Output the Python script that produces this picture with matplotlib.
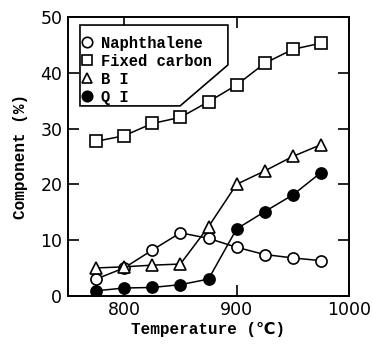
import matplotlib.pyplot as plt
from matplotlib.patches import Polygon
from matplotlib.lines import Line2D

temperature = [775, 800, 825, 850, 875, 900, 925, 950, 975]
naphthalene = [3.0, 5.0, 8.2, 11.3, 10.3, 8.7, 7.4, 6.8, 6.3]
fixed_carbon = [27.7, 28.7, 30.9, 32.0, 34.8, 37.8, 41.7, 44.2, 45.3]
bi = [5.0, 5.2, 5.5, 5.7, 12.4, 20.0, 22.4, 25.0, 27.1]
qi = [0.9, 1.4, 1.5, 2.0, 3.0, 12.0, 15.1, 18.1, 22.1]

labels = ["Naphthalene", "Fixed carbon", "B I", "Q I"]
series = [naphthalene, fixed_carbon, bi, qi]
markers = ["o", "s", "^", "o"]
faces = ["white", "white", "white", "black"]

plt.rcParams["font.family"] = ["Liberation Mono", "DejaVu Sans"]

fig = plt.figure(figsize=(3.73, 3.46), dpi=100)
ax = fig.add_axes([0.182, 0.145, 0.754, 0.806])

for ys, m, fc in zip(series, markers, faces):
    ax.plot(temperature, ys, color="black", linewidth=1.1, marker=m,
            markersize=8, markerfacecolor=fc, markeredgecolor="black",
            markeredgewidth=1.2, zorder=3)

ax.set_xlim(750, 1000)
ax.set_ylim(0, 50)
ax.set_xticks([800, 900, 1000])
ax.set_yticks([0, 10, 20, 30, 40, 50])
ax.tick_params(direction="in", length=8, width=1.2, top=True, right=True,
               labelsize=12.5, pad=4)
for t in ax.get_xticklabels() + ax.get_yticklabels():
    t.set_family("DejaVu Sans")
for s in ax.spines.values():
    s.set_linewidth(1.4)

ax.set_xlabel("Temperature (\u2103)", fontsize=11.5, fontweight="bold",
              labelpad=2)
ax.set_ylabel("Component (%)", fontsize=11.5, fontweight="bold", labelpad=9)

# legend frame with cut corner
frame = Polygon([(0.043, 0.971), (0.569, 0.971), (0.569, 0.828),
                 (0.399, 0.681), (0.043, 0.681)], closed=True,
                transform=ax.transAxes, facecolor="white", edgecolor="black",
                linewidth=1.2, zorder=4)
ax.add_patch(frame)

handles = [Line2D([], [], linestyle="none", marker=m, markersize=7.5,
                  markerfacecolor=fc, markeredgecolor="black",
                  markeredgewidth=1.2) for m, fc in zip(markers, faces)]
leg = ax.legend(handles, labels, loc="upper left", bbox_to_anchor=(0.0, 0.978),
                frameon=False, fontsize=11.2, handlelength=0.8, handletextpad=0.5,
                labelspacing=0.2, borderpad=0.3)
leg.set_zorder(5)
for t in leg.get_texts():
    t.set_fontweight("bold")

fig.savefig("out.png", dpi=100)
